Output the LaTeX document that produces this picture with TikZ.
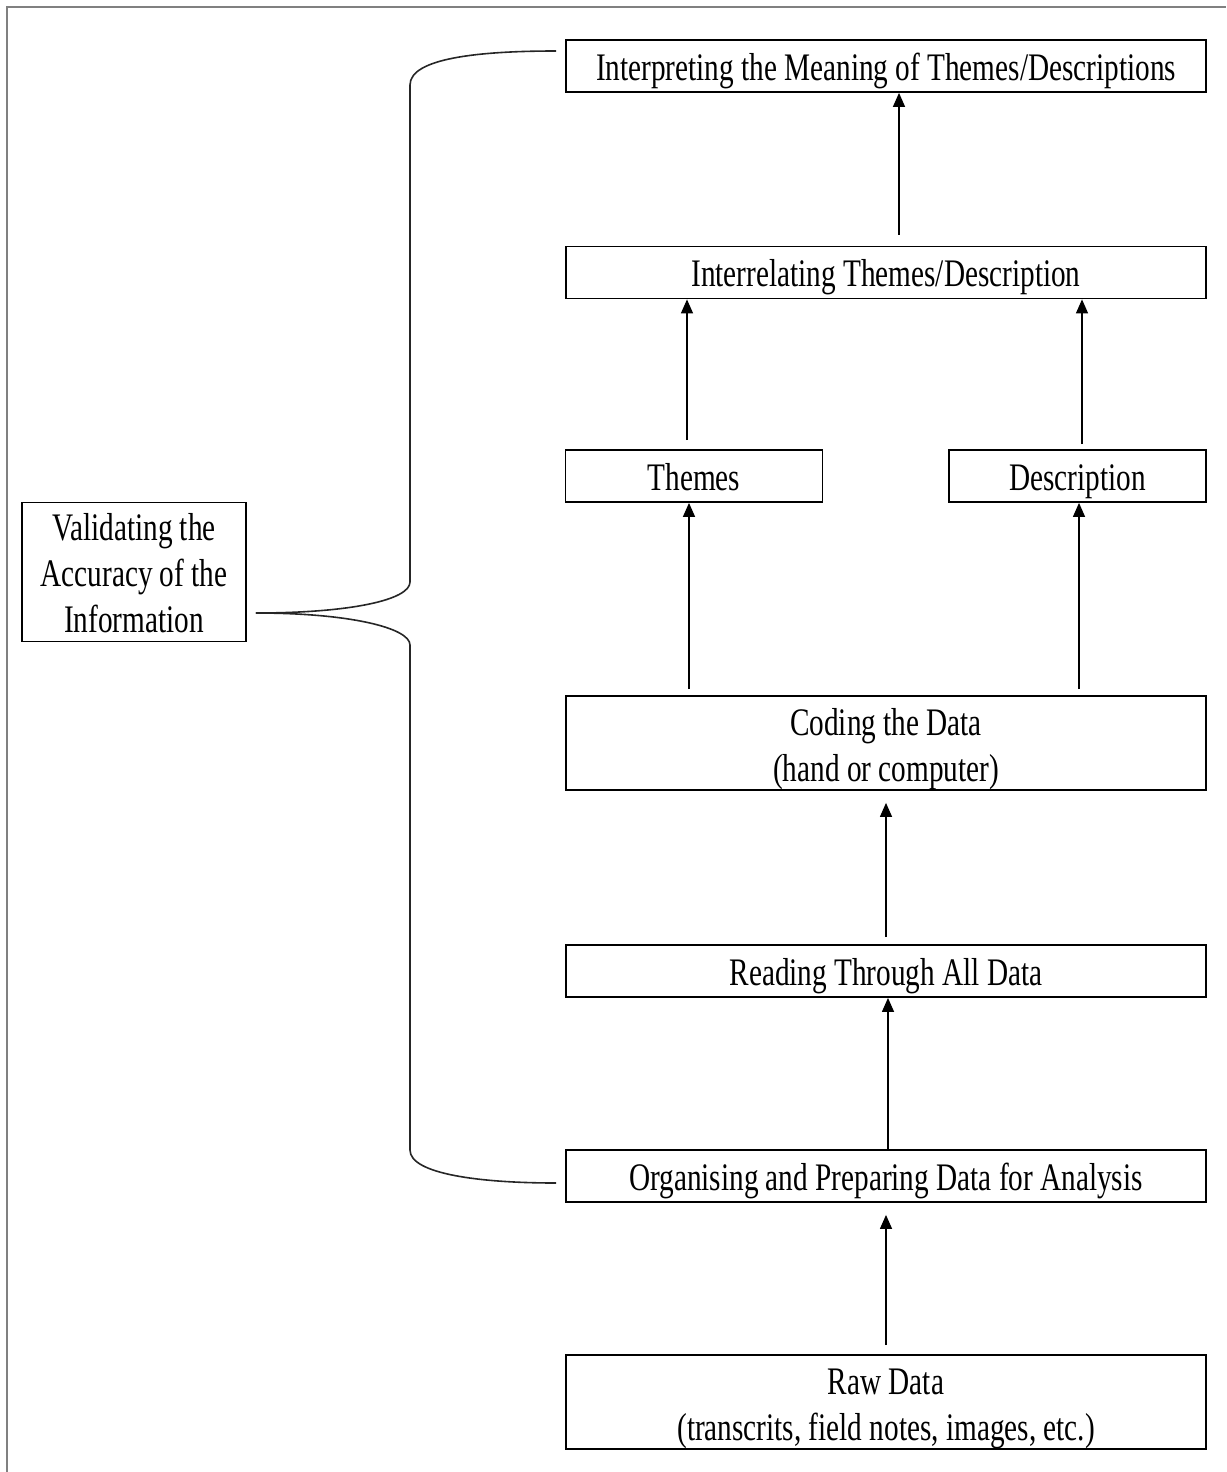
\documentclass[tikz,border=0pt]{standalone}
\usepackage{fontspec}
\setmainfont{Liberation Serif}[FakeStretch=0.75]
\usetikzlibrary{arrows.meta,calc}
\begin{document}
\begin{tikzpicture}[x=0.5pt,y=-0.5pt,
  box/.style={draw=black, line width=0.9pt, align=center, inner sep=0pt,
    font=\fontsize{19.5}{23}\selectfont},
  wide/.style={box, minimum width=320pt},
  small/.style={box, minimum width=128.5pt},
  h1/.style={text height=20pt, text depth=6pt},
  h2/.style={text height=42.5pt, text depth=4.5pt},
  arr/.style={line width=0.7pt, -{Triangle[length=7pt,width=6pt]}},
  brace/.style={line width=0.8pt, draw=black!85},
  frame/.style={draw=gray, line width=1.4pt}]
\useasboundingbox (0,0) rectangle (1226,1472);
\draw[frame] (7,1472) -- (7,7) -- (1226,7);

\node[wide,h1] (interp) at (886,66) {Interpreting the Meaning of Themes/Descriptions};
\node[wide,h1] (interrel) at (886,272.5) {Interrelating Themes/Description};
\node[small,h1] (themes) at (694,476) {Themes};
\node[small,h1] (desc) at (1077.5,476) {Description};
\node[wide,h2] (coding) at (886,743) {Coding the Data\\(hand or computer)};
\node[wide,h1] (reading) at (886,971) {Reading Through All Data};
\node[wide,h1] (organ) at (886,1176) {Organising and Preparing Data for Analysis};
\node[wide,h2] (raw) at (886,1402) {Raw Data\\(transcrits, field notes, images, etc.)};
\node[box, minimum width=112pt, text height=65pt, text depth=4.5pt] (valid) at (134,572)
  {Validating the\\Accuracy of the\\Information};

\draw[arr] ([xshift=6.5pt,yshift=5.5pt]interrel.north) -- ([xshift=6.5pt]interp.south);
\draw[arr] ([xshift=-3.5pt,yshift=4.5pt]themes.north) -- ([xshift=-3.5pt]interrel.south -| themes.north);
\draw[arr] ([xshift=2.25pt,yshift=2.5pt]desc.north) -- ([xshift=2.25pt]interrel.south -| desc.north);
\draw[arr] ([xshift=-2.5pt,yshift=3pt]coding.north -| themes.south) -- ([xshift=-2.5pt]themes.south);
\draw[arr] ([xshift=0.75pt,yshift=3pt]coding.north -| desc.south) -- ([xshift=0.75pt]desc.south);
\draw[arr] ([yshift=3.5pt]reading.north) -- ([yshift=-6pt]coding.south);
\draw[arr] ([xshift=1pt]organ.north) -- ([xshift=1pt]reading.south);
\draw[arr] ([yshift=4.5pt]raw.north) -- ([yshift=-6pt]organ.south);

\coordinate (bs) at ($(valid.east)+(9,41)$);
\coordinate (bt) at ($(interp.west)+(-9,-15)$);
\coordinate (bb) at ($(organ.west)+(-9,7)$);
\draw[brace] (bs) .. controls (350,613) and (410,600) .. (410,582)
  -- (410,85) .. controls (410,58) and (480,51) .. (bt);
\draw[brace] (bs) .. controls (350,613) and (410,628) .. (410,645)
  -- (410,1150) .. controls (410,1174) and (480,1183) .. (bb);
\end{tikzpicture}
\end{document}
